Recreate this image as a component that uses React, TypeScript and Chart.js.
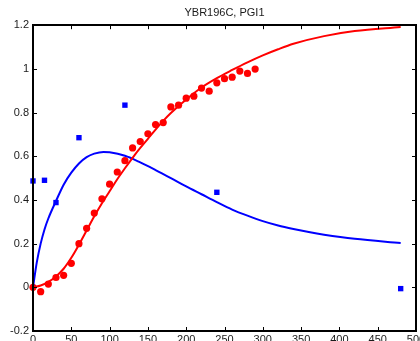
import { useEffect, useRef } from "react";
import { Chart, registerables } from "chart.js";

Chart.register(...registerables);

const chartTitle = "YBR196C, PGI1";

// Axis tick positions
const xTickValues = [0, 50, 100, 150, 200, 250, 300, 350, 400, 450, 500];
const yTickValues = [-0.2, 0, 0.2, 0.4, 0.6, 0.8, 1, 1.2];

// Measured profile (red circles)
const redTimes = [0, 10, 20, 30, 40, 50, 60, 70, 80, 90, 100, 110, 120, 130, 140, 150, 160, 170, 180, 190, 200, 210, 220, 230, 240, 250, 260, 270, 280, 290];
const redValues = [0, -0.02, 0.015, 0.045, 0.055, 0.11, 0.2, 0.27, 0.34, 0.405, 0.472, 0.528, 0.58, 0.638, 0.667, 0.703, 0.745, 0.754, 0.826, 0.834, 0.866, 0.875, 0.912, 0.898, 0.936, 0.955, 0.962, 0.99, 0.979, 0.999];

// Measured profile (blue squares)
const blueTimes = [0, 15, 30, 60, 120, 240, 480];
const blueValues = [0.487, 0.49, 0.388, 0.685, 0.834, 0.435, -0.006];

// Fitted model curve (red)
const redFitTimes = [0, 10, 20, 30, 40, 50, 60, 70, 80, 90, 100, 110, 120, 130, 140, 150, 160, 170, 180, 200, 220, 240, 260, 280, 300, 320, 340, 380, 420, 480];
const redFitValues = [0, 0.008, 0.025, 0.05, 0.085, 0.135, 0.195, 0.26, 0.325, 0.385, 0.44, 0.495, 0.545, 0.593, 0.638, 0.68, 0.722, 0.762, 0.798, 0.86, 0.915, 0.958, 0.995, 1.03, 1.062, 1.09, 1.115, 1.15, 1.173, 1.192];

// Fitted model curve (blue)
const blueFitTimes = [0, 5, 10, 15, 20, 30, 40, 50, 60, 70, 80, 92, 100, 120, 140, 160, 180, 200, 220, 240, 260, 280, 300, 320, 340, 360, 380, 420, 480];
const blueFitValues = [0, 0.115, 0.2, 0.265, 0.315, 0.395, 0.47, 0.525, 0.567, 0.596, 0.612, 0.62, 0.618, 0.602, 0.572, 0.537, 0.5, 0.462, 0.426, 0.39, 0.356, 0.328, 0.303, 0.283, 0.267, 0.253, 0.241, 0.222, 0.203];

const pairs = (xs: number[], ys: number[]) => xs.map((x, i) => ({ x, y: ys[i] }));

const FONT_FAMILY = "'Liberation Sans', Arial, Helvetica, sans-serif";
const TEXT_COLOR = "#1a1a1a";

// Draws the boxed frame with inward-pointing ticks on all four sides,
// plus the x tick labels (allowed to run past the canvas edge)
const framePlugin = {
  id: "boxFrame",
  afterDatasetsDraw(chart: any) {
    const { ctx, chartArea: a, scales } = chart;
    const len = 4;
    ctx.save();
    ctx.strokeStyle = "#000";
    ctx.lineWidth = 1;
    ctx.beginPath();
    for (const v of xTickValues) {
      const px = Math.round(scales.x.getPixelForValue(v)) + 0.5;
      ctx.moveTo(px, a.bottom);
      ctx.lineTo(px, a.bottom - len);
      ctx.moveTo(px, a.top);
      ctx.lineTo(px, a.top + len);
    }
    for (const v of yTickValues) {
      const py = Math.round(scales.y.getPixelForValue(v)) + 0.5;
      ctx.moveTo(a.left, py);
      ctx.lineTo(a.left + len, py);
      ctx.moveTo(a.right, py);
      ctx.lineTo(a.right - len, py);
    }
    ctx.stroke();
    ctx.lineWidth = 2;
    ctx.strokeRect(Math.round(a.left), Math.round(a.top), Math.round(a.right - a.left), Math.round(a.bottom - a.top));

    ctx.fillStyle = TEXT_COLOR;
    ctx.font = `11px ${FONT_FAMILY}`;
    ctx.textAlign = "center";
    ctx.textBaseline = "top";
    for (const v of xTickValues) {
      ctx.fillText(String(v), scales.x.getPixelForValue(v), a.bottom + 3);
    }
    ctx.restore();
  },
};

export default function App() {
  const canvasRef = useRef<HTMLCanvasElement | null>(null);

  useEffect(() => {
    const canvas = canvasRef.current;
    if (!canvas) return;

    const chart = new Chart(canvas, {
      type: "scatter",
      data: {
        datasets: [
          {
            label: "red fit",
            data: pairs(redFitTimes, redFitValues),
            showLine: true,
            borderColor: "#ff0000",
            borderWidth: 2,
            pointRadius: 0,
            cubicInterpolationMode: "monotone",
          },
          {
            label: "blue fit",
            data: pairs(blueFitTimes, blueFitValues),
            showLine: true,
            borderColor: "#0000ff",
            borderWidth: 2,
            pointRadius: 0,
            cubicInterpolationMode: "monotone",
          },
          {
            label: "red data",
            data: pairs(redTimes, redValues),
            showLine: false,
            pointStyle: "circle",
            pointRadius: 3.6,
            backgroundColor: "#ff0000",
            borderColor: "#ff0000",
            borderWidth: 0,
            clip: false,
          },
          {
            label: "blue data",
            data: pairs(blueTimes, blueValues),
            showLine: false,
            pointStyle: "rect",
            pointRadius: 3.8,
            backgroundColor: "#0000ff",
            borderColor: "#0000ff",
            borderWidth: 0,
            clip: false,
          },
        ],
      },
      options: {
        animation: false,
        responsive: false,
        layout: { padding: { right: 1, left: 0, top: 0, bottom: 0 } },
        plugins: {
          legend: { display: false },
          tooltip: { enabled: false },
          title: {
            display: true,
            text: chartTitle,
            fullSize: false,
            color: TEXT_COLOR,
            font: { family: FONT_FAMILY, size: 11, weight: "normal" },
            padding: { top: 6, bottom: 6 },
          },
        },
        scales: {
          x: {
            type: "linear",
            min: 0,
            max: 500,
            grid: { display: false, drawTicks: false },
            border: { display: false },
            afterBuildTicks: (scale: any) => {
              scale.ticks = xTickValues.map((value) => ({ value }));
            },
            afterFit: (scale: any) => {
              scale.height = 10;
              scale.paddingLeft = 0;
              scale.paddingRight = 0;
            },
            ticks: { display: false },
          },
          y: {
            type: "linear",
            min: -0.2,
            max: 1.2,
            grid: { display: false, drawTicks: false },
            border: { display: false },
            afterBuildTicks: (scale: any) => {
              scale.ticks = yTickValues.map((value) => ({ value }));
            },
            afterFit: (scale: any) => {
              scale.width = 33;
              scale.paddingTop = 0;
              scale.paddingBottom = 0;
            },
            ticks: {
              color: TEXT_COLOR,
              padding: 4,
              autoSkip: false,
              font: { family: FONT_FAMILY, size: 11 },
              callback: (v: any) => String(Number(Number(v).toFixed(1))),
            },
          },
        },
      },
      plugins: [framePlugin],
    });

    return () => chart.destroy();
  }, []);

  return (
    <div style={{ position: "absolute", left: 0, top: 0, width: 420, height: 341, background: "#fff" }}>
      <canvas ref={canvasRef} width={420} height={341} style={{ display: "block" }} />
    </div>
  );
}
